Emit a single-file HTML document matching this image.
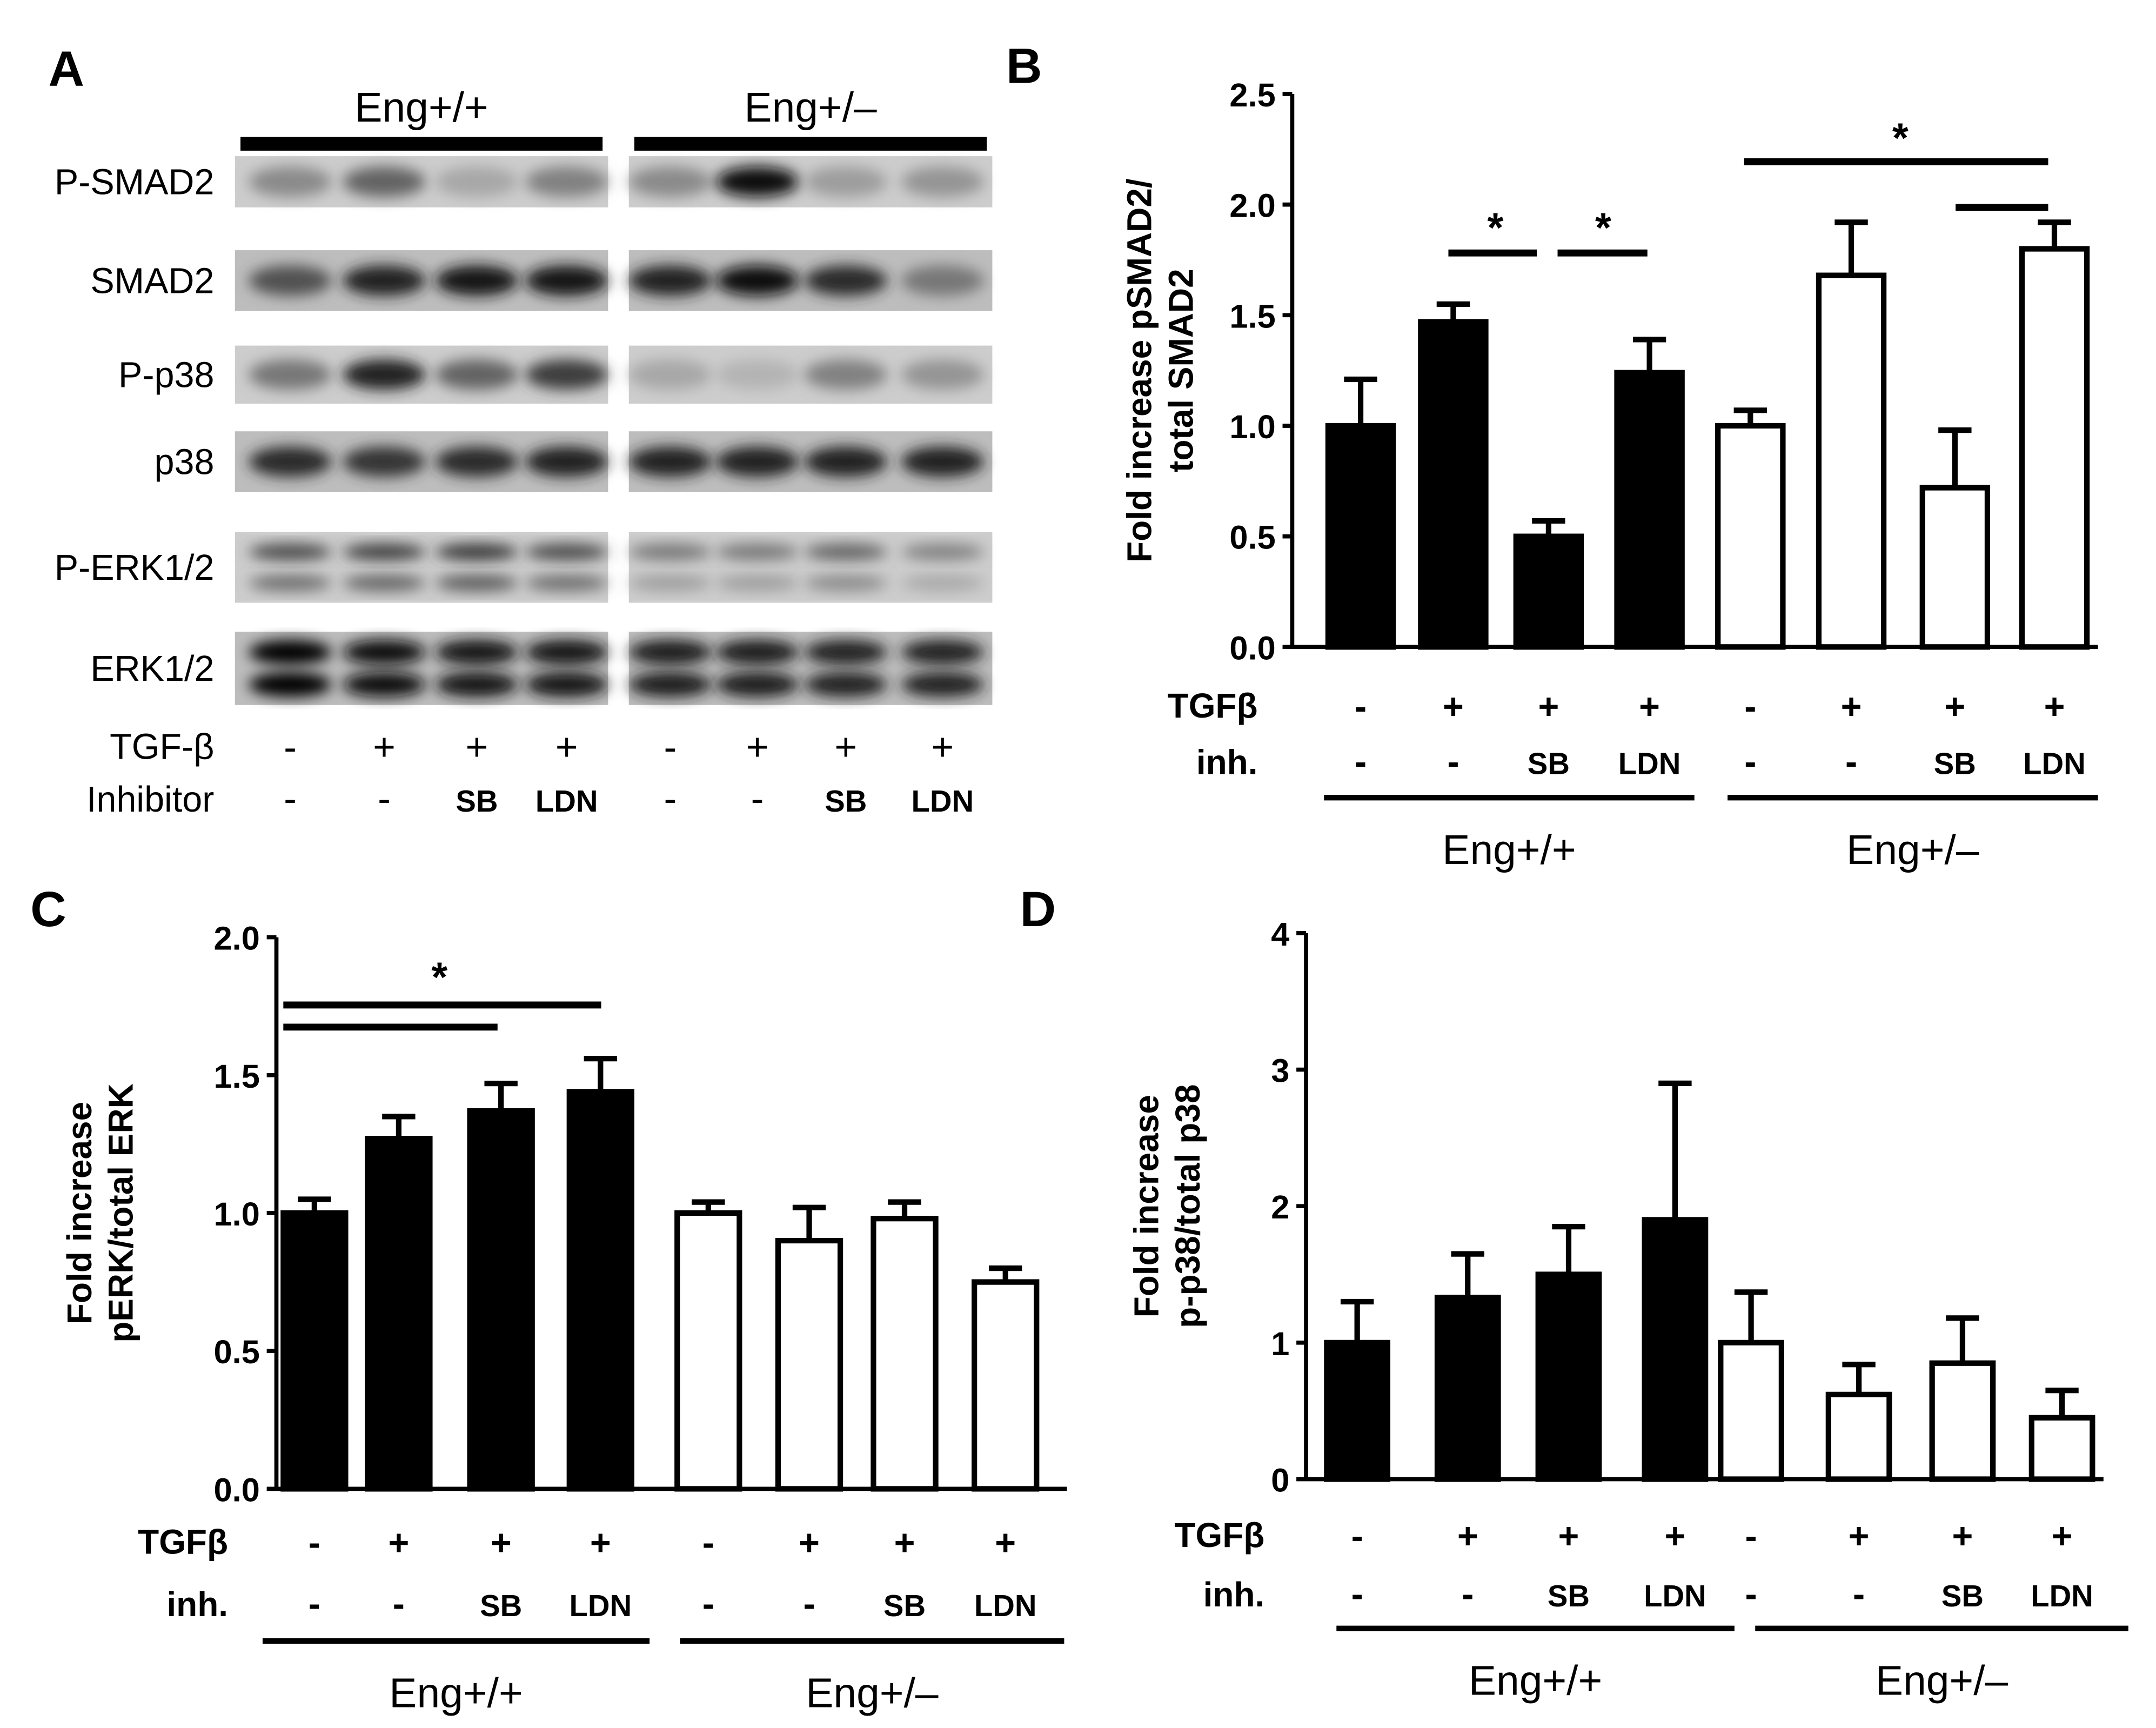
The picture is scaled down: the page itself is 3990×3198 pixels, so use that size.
<!DOCTYPE html>
<html><head><meta charset="utf-8"><style>
html,body{margin:0;padding:0;background:#fff;}
svg{display:block;}
text{font-family:"Liberation Sans",sans-serif;}
</style></head><body>
<svg id="fig" width="3990" height="3198" viewBox="0 0 1560 1250" preserveAspectRatio="none" xmlns="http://www.w3.org/2000/svg">
<defs><filter id="blur" x="-50%" y="-50%" width="200%" height="200%"><feGaussianBlur stdDeviation="5"/></filter></defs>
<g id="panelA"></g>
<g id="panelB"></g>
<g id="panelC"></g>
<g id="panelD"></g>
</svg>
<script>
const NS="http://www.w3.org/2000/svg";
function el(p,tag,attrs,txt){const e=document.createElementNS(NS,tag);for(const k in attrs)e.setAttribute(k,attrs[k]);if(txt!==undefined)e.textContent=txt;p.appendChild(e);return e;}

const bValues=[1.0,1.47,0.5,1.24,1.0,1.68,0.72,1.8];
const bErrors=[0.21,0.08,0.07,0.15,0.07,0.24,0.26,0.12];
const bTicks=["0.0","0.5","1.0","1.5","2.0","2.5"];
const cValues=[1.0,1.27,1.37,1.44,1.0,0.9,0.98,0.75];
const cErrors=[0.05,0.08,0.1,0.12,0.04,0.12,0.06,0.05];
const cTicks=["0.0","0.5","1.0","1.5","2.0"];
const dValues=[1.0,1.33,1.5,1.9,1.0,0.62,0.85,0.45];
const dErrors=[0.3,0.32,0.35,1.0,0.37,0.22,0.33,0.2];
const dTicks=["0","1","2","3","4"];
const tgfLabels=["-","+","+","+","-","+","+","+"];
const inhLabels=["-","-","SB","LDN","-","-","SB","LDN"];
const groupLabels=["Eng+/+","Eng+/–"];
const blotRows=["P-SMAD2","SMAD2","P-p38","p38","P-ERK1/2","ERK1/2"];
const blotIntensity=[[0.3,0.5,0.15,0.35,0.3,0.95,0.2,0.25],[0.6,0.85,0.9,0.9,0.85,0.95,0.8,0.4],[0.4,0.85,0.5,0.7,0.15,0.08,0.35,0.25],[0.8,0.75,0.8,0.85,0.85,0.85,0.85,0.85],[0.65,0.7,0.75,0.65,0.4,0.4,0.5,0.35],[1,0.95,0.92,0.92,0.88,0.88,0.85,0.85]];

const A=document.getElementById('panelA');
const lt=el(A,'text',{x:35,y:62,'font-size':36,'font-weight':'bold'},'A');


const laneX=[210,278,345,410,485,548,612,682];
const rowY=[[113,150],[181,225],[250,292],[312,356],[385,436],[457,510]];
const blockX=[[170,440],[455,718]];
blockX.forEach((b,g)=>{
  const bar=el(A,'rect',{x:b[0]+4,y:99,width:b[1]-b[0]-8,height:10,fill:'#000'});
  
  
  const t=el(A,'text',{x:(b[0]+b[1])/2,y:88,'font-size':30,'text-anchor':'middle'},groupLabels[g]);
  
  
});
blotRows.forEach((name,r)=>{
  const [y0,y1]=rowY[r];
  const lab=el(A,'text',{x:155,y:(y0+y1)/2+9,'font-size':26,'text-anchor':'end'},name);
  
  
  blockX.forEach((b,g)=>{
    const bg=el(A,'rect',{x:b[0],y:y0,width:b[1]-b[0],height:y1-y0,fill:r==0||r==2||r==4?'#cdcdcd':'#bdbdbd'});
    
    
    for(let i=0;i<4;i++){
      const li=g*4+i, cx=laneX[li], v=blotIntensity[r][li], cy=(y0+y1)/2;
      const c=Math.round(195-190*v);
      if(r==4||r==5){
        [cy-(y1-y0)*0.22,cy+(y1-y0)*0.22].forEach((yy,k)=>{
          const cc=c+(r==4&&k==1?40:0);
          const e=el(A,'ellipse',{cx:cx,cy:yy,rx:30,ry:r==5?9:6,fill:`rgb(${cc},${cc},${cc})`,filter:'url(#blur)'});
          
          
        });
      } else {
        const e=el(A,'ellipse',{cx:cx,cy:cy,rx:30,ry:11,fill:`rgb(${c},${c},${c})`,filter:'url(#blur)'});
        
        
      }
    }
  });
});
const tl=el(A,'text',{x:155,y:549,'font-size':26,'text-anchor':'end'},'TGF-β');


const il=el(A,'text',{x:155,y:587,'font-size':26,'text-anchor':'end'},'Inhibitor');


laneX.forEach((x,i)=>{
  const t=el(A,'text',{x:x,y:550,'font-size':28,'text-anchor':'middle'},tgfLabels[i]);
  
  
  const bold=inhLabels[i]!="-";
  const s=el(A,'text',{x:x,y:587,'font-size':bold?22:28,'font-weight':bold?'bold':'normal','text-anchor':'middle'},inhLabels[i]);
  
  
});

function chart(g,cfg){
  const yScale=v=>cfg.y0-(v/cfg.max)*(cfg.y0-cfg.yTop);
  const lab=el(g,'text',{x:cfg.letterX,y:cfg.letterY,'font-size':36,'font-weight':'bold'},cfg.letter);
  
  
  cfg.values.forEach((v,i)=>{
    const x=cfg.bx[i], w=cfg.bw, top=yScale(v), et=yScale(v+cfg.errors[i]);
    const eb=el(g,'line',{x1:x+w/2,x2:x+w/2,y1:top,y2:et,stroke:'#000','stroke-width':4});
    
    
    const cap=el(g,'line',{x1:x+w/2-12,x2:x+w/2+12,y1:et,y2:et,stroke:'#000','stroke-width':4});
    
    
    const r=el(g,'rect',{x:x,y:top,width:w,height:cfg.y0-top,fill:i<4?'#000':'#fff',stroke:'#000','stroke-width':4});
    
    
  });
  const ya=el(g,'line',{x1:cfg.ax,x2:cfg.ax,y1:cfg.yTop,y2:cfg.y0,stroke:'#000','stroke-width':3});
  
  
  const xa=el(g,'line',{x1:cfg.ax,x2:cfg.axEnd,y1:cfg.y0,y2:cfg.y0,stroke:'#000','stroke-width':3});
  
  
  cfg.ticks.forEach((t,i)=>{
    const v=parseFloat(t), y=yScale(v);
    const tk=el(g,'line',{x1:cfg.ax-7,x2:cfg.ax,y1:y,y2:y,stroke:'#000','stroke-width':3});
    
    
    const tt=el(g,'text',{x:cfg.ax-12,y:y+9,'font-size':24,'font-weight':'bold','text-anchor':'end'},t);
    
    
  });
  const tgA=el(g,'text',{transform:`translate(${cfg.titleX},${(cfg.yTop+cfg.y0)/2}) rotate(-90)`,'font-size':25,'font-weight':'bold','text-anchor':'middle'});
  
  
  cfg.title.forEach((s,k)=>{el(tgA,'tspan',{x:0,dy:k==0?0:30},s);});
  const tr=el(g,'text',{x:cfg.rowLabelX,y:cfg.tgfY+9,'font-size':25,'font-weight':'bold','text-anchor':'end'},'TGFβ');
  
  
  const ir=el(g,'text',{x:cfg.rowLabelX,y:cfg.inhY+9,'font-size':25,'font-weight':'bold','text-anchor':'end'},'inh.');
  
  
  cfg.bx.forEach((x,i)=>{
    const cx=x+cfg.bw/2;
    const a=el(g,'text',{x:cx,y:cfg.tgfY+10,'font-size':26,'font-weight':'bold','text-anchor':'middle'},tgfLabels[i]);
    
    
    const b=el(g,'text',{x:cx,y:cfg.inhY+9,'font-size':inhLabels[i]=="-"?26:22,'font-weight':'bold','text-anchor':'middle'},inhLabels[i]);
    
    
  });
  cfg.groups.forEach((gr,k)=>{
    const ln=el(g,'line',{x1:gr[0],x2:gr[1],y1:cfg.grpY,y2:cfg.grpY,stroke:'#000','stroke-width':4});
    
    
    const t=el(g,'text',{x:(gr[0]+gr[1])/2,y:cfg.grpY+48,'font-size':30,'text-anchor':'middle'},groupLabels[k]);
    
    
  });
  cfg.sig.forEach(s=>{
    const ln=el(g,'line',{x1:s[0],x2:s[1],y1:s[2],y2:s[2],stroke:'#000','stroke-width':5});
    
    
  });
  cfg.stars.forEach(s=>{
    const t=el(g,'text',{x:s[0],y:s[1],'font-size':30,'font-weight':'bold','text-anchor':'middle'},'*');
    
    
  });
}

chart(document.getElementById('panelB'),{letter:'B',letterX:728,letterY:60,values:bValues,errors:bErrors,ticks:bTicks,max:2.5,
  y0:468,yTop:68,ax:935,axEnd:1518,bx:[961,1028,1097,1170,1243,1316,1391,1463],bw:47,
  title:['Fold increase pSMAD2/','total SMAD2'],titleX:833,rowLabelX:910,tgfY:510,inhY:551,
  groups:[[958,1226],[1250,1518]],grpY:577,
  sig:[[1048,1112,183],[1127,1192,183],[1262,1482,117],[1415,1482,150]],
  stars:[[1082,175],[1160,175],[1375,110]]});
chart(document.getElementById('panelC'),{letter:'C',letterX:22,letterY:670,values:cValues,errors:cErrors,ticks:cTicks,max:2.0,
  y0:1077,yTop:678,ax:200,axEnd:772,bx:[205,266,340,412,490,563,632,705],bw:45,
  title:['Fold increase','pERK/total ERK'],titleX:66,rowLabelX:165,tgfY:1115,inhY:1160,
  groups:[[190,470],[492,770]],grpY:1187,
  sig:[[205,360,743],[205,435,727]],
  stars:[[318,717]]});
chart(document.getElementById('panelD'),{letter:'D',letterX:738,letterY:670,values:dValues,errors:dErrors,ticks:dTicks,max:4,
  y0:1070,yTop:675,ax:945,axEnd:1522,bx:[960,1040,1113,1190,1245,1323,1398,1470],bw:44,
  title:['Fold increase','p-p38/total p38'],titleX:838,rowLabelX:915,tgfY:1110,inhY:1153,
  groups:[[967,1255],[1270,1540]],grpY:1178,
  sig:[],stars:[]});
</script>
</body></html>
